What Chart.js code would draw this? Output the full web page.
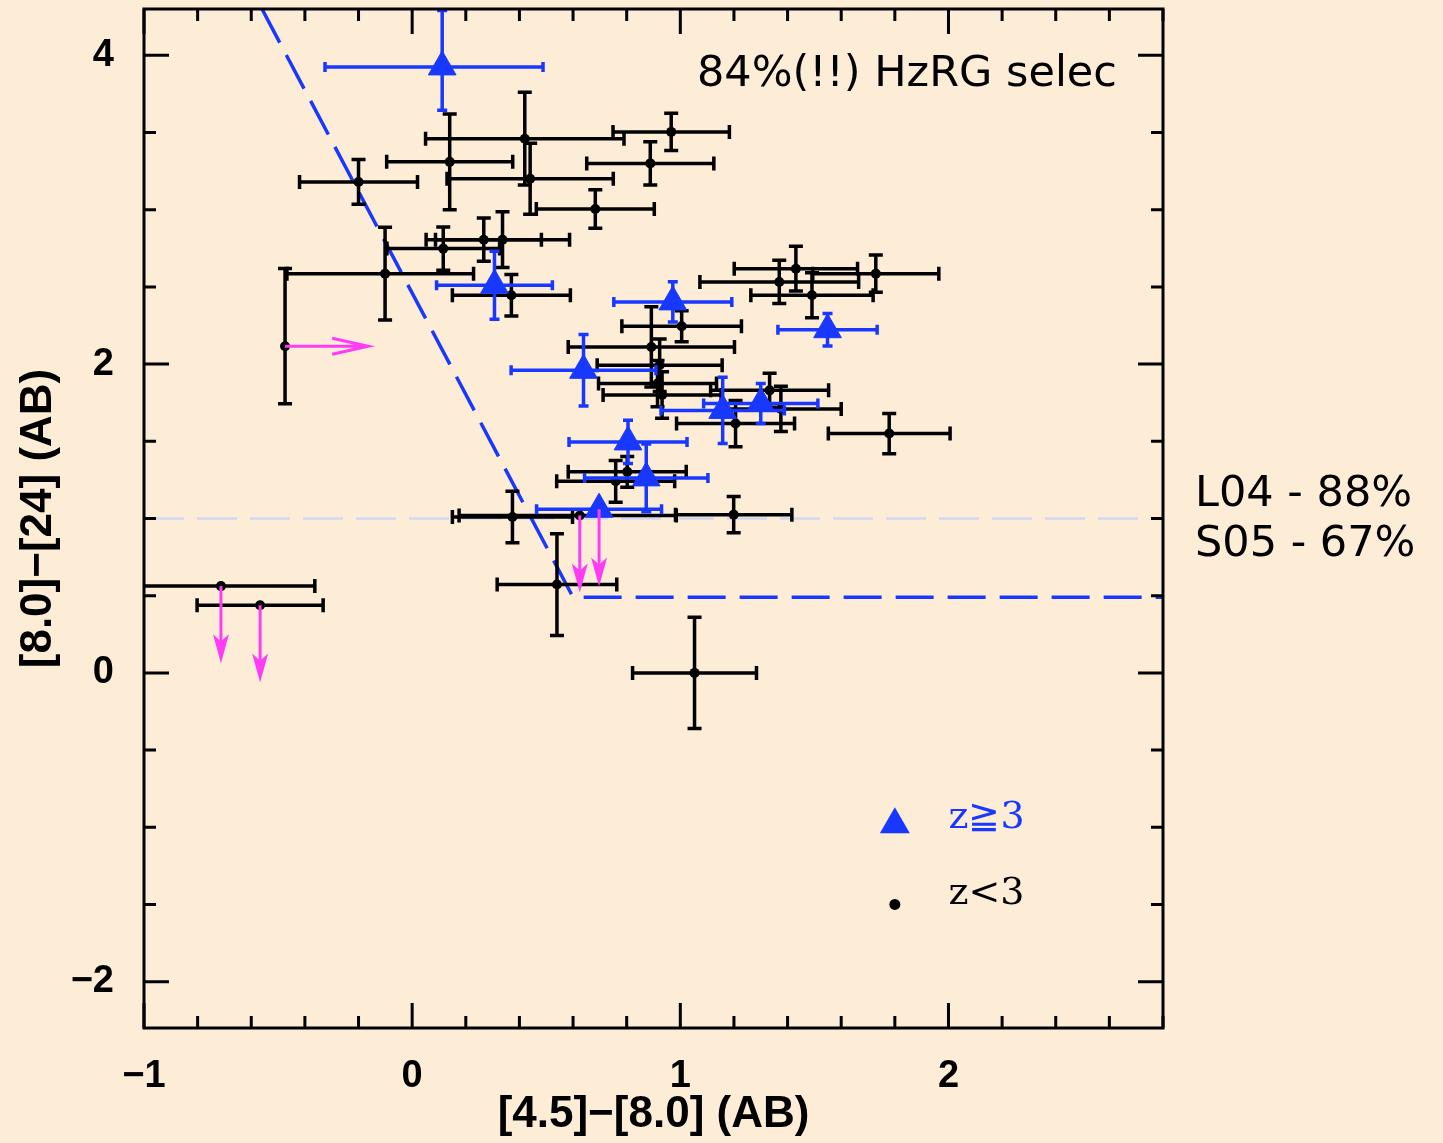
<!DOCTYPE html>
<html>
<head>
<meta charset="utf-8">
<script src="https://cdn.jsdelivr.net/npm/chart.js@4.4.1/dist/chart.umd.min.js"></script>
<style>
  body { margin: 0; background: #fdedd7; }
  #wrap { width: 1443px; height: 1143px; position: relative; }
</style>
</head>
<body>
<div id="wrap"><canvas id="colourChart"></canvas></div>
<script>
// rows: [4.5]-[8.0], [8.0]-[24], x err -, x err +, y err -, y err +, limit
var lowZ = [
  [-0.20, 3.18, 0.22, 0.22, 0.145, 0.145],
  [0.14, 3.31, 0.235, 0.235, 0.31, 0.31],
  [0.42, 3.46, 0.37, 0.37, 0.30, 0.30],
  [0.44, 3.20, 0.31, 0.31, 0.23, 0.23],
  [0.683, 3.005, 0.22, 0.22, 0.125, 0.125],
  [0.966, 3.504, 0.217, 0.217, 0.12, 0.12],
  [0.888, 3.30, 0.237, 0.237, 0.14, 0.14],
  [0.337, 2.806, 0.25, 0.25, 0.18, 0.18],
  [0.267, 2.806, 0.215, 0.215, 0.14, 0.14],
  [0.116, 2.748, 0.21, 0.21, 0.14, 0.14],
  [-0.101, 2.586, 0.366, 0.33, 0.30, 0.30],
  [0.37, 2.446, 0.22, 0.22, 0.135, 0.135],
  [1.431, 2.618, 0.23, 0.23, 0.145, 0.145],
  [1.369, 2.532, 0.296, 0.296, 0.14, 0.14],
  [1.729, 2.586, 0.235, 0.235, 0.12, 0.12],
  [1.491, 2.446, 0.228, 0.228, 0.145, 0.145],
  [1.779, 1.55, 0.227, 0.227, 0.13, 0.13],
  [1.005, 2.245, 0.223, 0.223, 0.10, 0.10],
  [0.892, 2.111, 0.31, 0.31, 0.26, 0.26],
  [0.923, 1.993, 0.233, 0.233, 0.17, 0.17],
  [0.915, 1.874, 0.22, 0.22, 0.15, 0.15],
  [0.932, 1.80, 0.22, 0.22, 0.15, 0.15],
  [1.333, 1.83, 0.22, 0.22, 0.11, 0.11],
  [1.375, 1.71, 0.225, 0.225, 0.146, 0.146],
  [1.206, 1.615, 0.22, 0.22, 0.15, 0.15],
  [0.802, 1.302, 0.22, 0.22, 0.10, 0.10],
  [0.759, 1.241, 0.22, 0.22, 0.135, 0.135],
  [0.374, 1.01, 0.224, 0.224, 0.167, 0.167],
  [1.199, 1.025, 0.217, 0.217, 0.117, 0.117],
  [0.54, 0.572, 0.223, 0.223, 0.33, 0.33],
  [1.053, 0.0, 0.231, 0.231, 0.36, 0.36],
  [0.625, 1.02, 0.45, 0.36, 0, 0, 'down'],
  [-0.713, 0.562, 0.35, 0.35, 0, 0, 'down'],
  [-0.567, 0.438, 0.235, 0.235, 0, 0, 'down'],
  [-0.474, 2.116, 0, 0, 0.372, 0.504, 'right']
];
var highZ = [
  [0.112, 3.925, 0.437, 0.376, 0.28, 0.365],
  [0.307, 2.511, 0.216, 0.216, 0.22, 0.22],
  [0.972, 2.403, 0.22, 0.22, 0.13, 0.13],
  [1.549, 2.223, 0.185, 0.185, 0.105, 0.105],
  [0.639, 1.96, 0.27, 0.27, 0.232, 0.232],
  [1.158, 1.70, 0.23, 0.23, 0.215, 0.215],
  [1.30, 1.745, 0.213, 0.213, 0.13, 0.13],
  [0.805, 1.496, 0.22, 0.22, 0.14, 0.14],
  [0.873, 1.263, 0.23, 0.23, 0.22, 0.22],
  [0.697, 1.06, 0.233, 0.233, 0, 0, 'down']
];
var limitLenY = 0.5;
var limitLenX = 0.31;

// HzRG selection wedge and the y = 1 cut
var wedgeX = [-0.56, 0.6, 2.8];
var wedgeY = [4.3, 0.49, 0.49];
var cutX = [-1, 2.8];
var cutY = [1, 1];

var xTickLabels = [-1, 0, 1, 2];
var yTickLabels = [-2, 0, 2, 4];

var BLUE = '#1838ff';
var PINK = '#ff3cf5';

function toXY(xs, ys) {
  return xs.map(function(x, i) { return {x: x, y: ys[i]}; });
}
function rowsToXY(rows) {
  return rows.map(function(r) { return {x: r[0], y: r[1]}; });
}
function minus(v) {
  return v < 0 ? '\u2212' + Math.abs(v) : String(v);
}

var errorBars = {
  id: 'errorBars',
  beforeDatasetDraw: function(chart, args) {
    var ds = chart.data.datasets[args.index];
    if (!ds.rows) return;
    var xs = chart.scales.x, ys = chart.scales.y, ctx = chart.ctx, a = chart.chartArea;
    var cap = ds.capSize;
    ctx.save();
    ctx.beginPath();
    ctx.rect(a.left, a.top, a.right - a.left, a.bottom - a.top);
    ctx.clip();
    ctx.strokeStyle = ds.borderColor;
    ctx.lineWidth = ds.barWidth;
    ds.rows.forEach(function(r) {
      var px = xs.getPixelForValue(r[0]), py = ys.getPixelForValue(r[1]);
      ctx.beginPath();
      if (r[2] || r[3]) {
        var x0 = xs.getPixelForValue(r[0] - r[2]), x1 = xs.getPixelForValue(r[0] + r[3]);
        ctx.moveTo(x0, py); ctx.lineTo(x1, py);
        ctx.moveTo(x0, py - cap); ctx.lineTo(x0, py + cap);
        ctx.moveTo(x1, py - cap); ctx.lineTo(x1, py + cap);
      }
      if (r[4] || r[5]) {
        var y0 = ys.getPixelForValue(r[1] - r[4]), y1 = ys.getPixelForValue(r[1] + r[5]);
        ctx.moveTo(px, y0); ctx.lineTo(px, y1);
        ctx.moveTo(px - cap, y0); ctx.lineTo(px + cap, y0);
        ctx.moveTo(px - cap, y1); ctx.lineTo(px + cap, y1);
      }
      ctx.stroke();
    });
    ctx.restore();
  }
};

// limit arrows, frame with inward ticks, legend and notes
var decorations = {
  id: 'decorations',
  afterDatasetsDraw: function(chart) {
    var xs = chart.scales.x, ys = chart.scales.y, ctx = chart.ctx;
    ctx.save();
    ctx.strokeStyle = PINK;
    ctx.fillStyle = PINK;
    ctx.lineWidth = 3;
    lowZ.concat(highZ).forEach(function(r) {
      var px = xs.getPixelForValue(r[0]), py = ys.getPixelForValue(r[1]);
      if (r[6] === 'down') {
        var ty = ys.getPixelForValue(r[1] - limitLenY);
        ctx.beginPath(); ctx.moveTo(px, py); ctx.lineTo(px, ty - 20); ctx.stroke();
        ctx.beginPath();
        ctx.moveTo(px, ty);
        ctx.lineTo(px - 8, ty - 29);
        ctx.lineTo(px, ty - 22);
        ctx.lineTo(px + 8, ty - 29);
        ctx.closePath(); ctx.fill();
      } else if (r[6] === 'right') {
        var tx = xs.getPixelForValue(r[0] + limitLenX);
        ctx.beginPath();
        ctx.moveTo(px, py); ctx.lineTo(tx, py);
        ctx.moveTo(tx - 36, py - 8); ctx.lineTo(tx, py); ctx.lineTo(tx - 36, py + 8);
        ctx.stroke();
      }
    });
    ctx.restore();
  },
  afterDraw: function(chart) {
    var xs = chart.scales.x, ys = chart.scales.y, ctx = chart.ctx, a = chart.chartArea;
    ctx.save();
    ctx.strokeStyle = '#000';
    ctx.lineWidth = 3;
    ctx.strokeRect(a.left, a.top, a.right - a.left, a.bottom - a.top);
    ctx.beginPath();
    var v, p, len;
    for (v = -1; v <= 2.8 + 1e-6; v += 0.2) {
      v = Math.round(v * 10) / 10;
      p = xs.getPixelForValue(v);
      len = xTickLabels.indexOf(v) >= 0 ? 25 : 12;
      ctx.moveTo(p, a.bottom); ctx.lineTo(p, a.bottom - len);
      ctx.moveTo(p, a.top); ctx.lineTo(p, a.top + len);
    }
    for (v = -2; v <= 4.3; v += 0.5) {
      p = ys.getPixelForValue(v);
      len = yTickLabels.indexOf(v) >= 0 ? 25 : 12;
      ctx.moveTo(a.left, p); ctx.lineTo(a.left + len, p);
      ctx.moveTo(a.right, p); ctx.lineTo(a.right - len, p);
    }
    ctx.stroke();

    // legend
    var lx = xs.getPixelForValue(1.8), tx = xs.getPixelForValue(2.0);
    var ly1 = ys.getPixelForValue(-0.98), ly2 = ys.getPixelForValue(-1.5);
    ctx.fillStyle = BLUE;
    ctx.beginPath();
    ctx.moveTo(lx, ly1 - 17);
    ctx.lineTo(lx + 15, ly1 + 9);
    ctx.lineTo(lx - 15, ly1 + 9);
    ctx.closePath(); ctx.fill();
    ctx.fillStyle = '#000';
    ctx.beginPath(); ctx.arc(lx, ly2, 5.5, 0, Math.PI * 2); ctx.fill();
    ctx.font = '38px "DejaVu Serif"';
    ctx.textBaseline = 'middle';
    ctx.fillStyle = BLUE;
    ctx.fillText('z\u22673', tx, ys.getPixelForValue(-0.94));
    ctx.fillStyle = '#000';
    ctx.fillText('z<3', tx, ys.getPixelForValue(-1.43));

    // notes
    ctx.textBaseline = 'alphabetic';
    ctx.font = '43px "DejaVu Sans"';
    ctx.fillText('84%(!!) HzRG selec', 697, 86);
    ctx.fillText('L04 - 88%', 1195, 506);
    ctx.fillText('S05 - 67%', 1195, 556);
    ctx.restore();
  }
};

function init() {
  var ctx = document.getElementById('colourChart');
  new Chart(ctx, {
    type: 'scatter',
    data: {
      datasets: [
        {
          label: 'z>=3',
          data: rowsToXY(highZ),
          rows: highZ,
          capSize: 5,
          barWidth: 3.5,
          pointStyle: 'triangle',
          pointRadius: 16,
          backgroundColor: BLUE,
          borderColor: BLUE,
          borderWidth: 1,
          order: 1
        },
        {
          label: 'z<3',
          data: rowsToXY(lowZ),
          rows: lowZ,
          capSize: 7,
          barWidth: 3.5,
          pointRadius: 5,
          backgroundColor: '#000',
          borderColor: '#000',
          borderWidth: 0,
          order: 2
        },
        {
          label: 'wedge',
          data: toXY(wedgeX, wedgeY),
          showLine: true,
          borderColor: BLUE,
          borderWidth: 3.5,
          borderDash: [38, 14],
          pointRadius: 0,
          order: 3
        },
        {
          label: 'cut',
          data: toXY(cutX, cutY),
          showLine: true,
          borderColor: '#d3d6f4',
          borderWidth: 2.5,
          borderDash: [40, 13],
          pointRadius: 0,
          order: 4
        }
      ]
    },
    options: {
      responsive: true,
      maintainAspectRatio: false,
      animation: false,
      events: [],
      layout: { autoPadding: false, padding: { top: 9, right: 280, bottom: 0, left: 0 } },
      plugins: { legend: { display: false }, tooltip: { enabled: false } },
      scales: {
        x: {
          type: 'linear',
          min: -1,
          max: 2.8,
          grid: { display: false },
          border: { display: false },
          afterBuildTicks: function(axis) {
            axis.ticks = xTickLabels.map(function(v) { return {value: v}; });
          },
          afterFit: function(axis) {
            axis.height = 115;
            axis.paddingLeft = 0;
            axis.paddingRight = 0;
          },
          ticks: {
            padding: 18,
            color: '#000',
            font: { family: 'Liberation Sans', weight: 'bold', size: 38 },
            callback: minus
          },
          title: {
            display: true,
            text: '[4.5]\u2212[8.0] (AB)',
            color: '#000',
            font: { family: 'Liberation Sans', weight: 'bold', size: 44 },
            padding: { top: 0, bottom: 2 }
          }
        },
        y: {
          type: 'linear',
          min: -2.3,
          max: 4.3,
          grid: { display: false },
          border: { display: false },
          afterBuildTicks: function(axis) {
            axis.ticks = yTickLabels.map(function(v) { return {value: v}; });
          },
          afterFit: function(axis) {
            axis.width = 144;
            axis.paddingTop = 0;
            axis.paddingBottom = 0;
          },
          ticks: {
            padding: 22,
            color: '#000',
            font: { family: 'Liberation Sans', weight: 'bold', size: 38 },
            callback: minus
          },
          title: {
            display: true,
            text: '[8.0]\u2212[24] (AB)',
            color: '#000',
            font: { family: 'Liberation Sans', weight: 'bold', size: 44 },
            padding: { top: 12, bottom: 0 }
          }
        }
      }
    },
    plugins: [errorBars, decorations]
  });
}

document.addEventListener('DOMContentLoaded', init);
</script>
</body>
</html>
